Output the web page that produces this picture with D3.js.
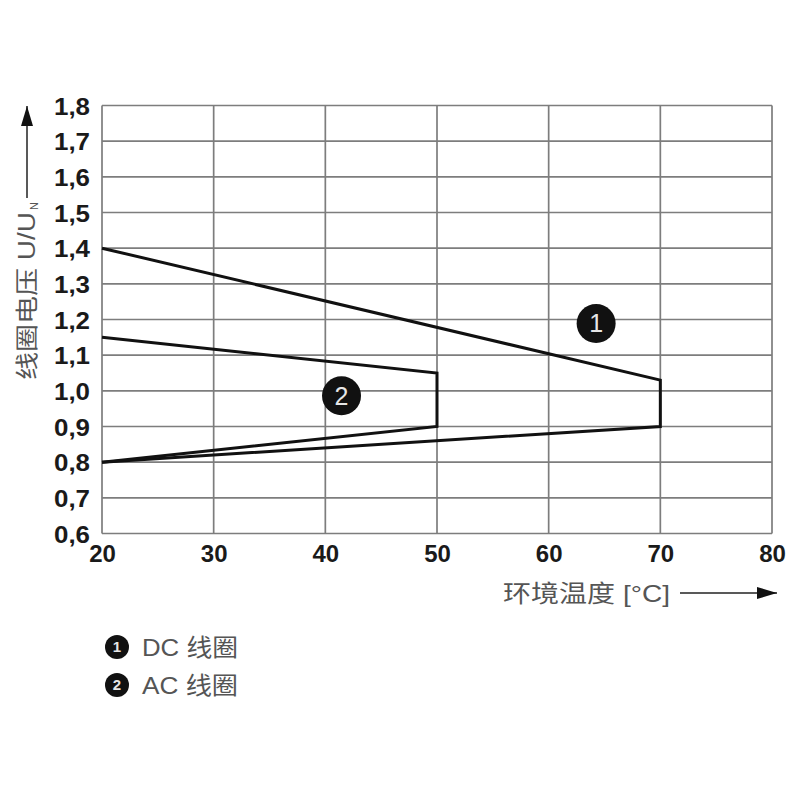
<!DOCTYPE html>
<html>
<head>
<meta charset="utf-8">
<script src="https://cdn.jsdelivr.net/npm/d3@7"></script>
<style>
  body { margin: 0; background: #fff; }
</style>
</head>
<body>
<div id="chart"></div>
<script>
// data
const xTicks = [20, 30, 40, 50, 60, 70, 80];
const yTicks = [0.6, 0.7, 0.8, 0.9, 1.0, 1.1, 1.2, 1.3, 1.4, 1.5, 1.6, 1.7, 1.8];
const dcTemp = [20, 70, 70, 20];
const dcVolt = [1.40, 1.03, 0.90, 0.80];
const acTemp = [20, 50, 50, 20];
const acVolt = [1.15, 1.05, 0.90, 0.80];
const markerLabels = ['1', '2'];
const markerTemp = [64.25, 41.45];
const markerVolt = [1.189, 0.986];
const legendLabels = ['DC 线圈', 'AC 线圈'];

const W = 800, H = 800;
const plot = {left: 102, right: 772, top: 105.5, bottom: 533.5};
const txtFont = '"Liberation Sans", "Noto Sans CJK SC", sans-serif';

const svg = d3.select('#chart').append('svg')
    .attr('width', W).attr('height', H);

svg.append('defs').append('marker')
    .attr('id', 'arrow')
    .attr('viewBox', '0 0 20 12')
    .attr('refX', 20).attr('refY', 6)
    .attr('markerWidth', 20).attr('markerHeight', 12)
    .attr('markerUnits', 'userSpaceOnUse')
    .attr('orient', 'auto')
  .append('path')
    .attr('d', 'M0,0 L20,6 L0,12 Z')
    .attr('fill', '#111');

const x = d3.scaleLinear().domain([20, 80]).range([plot.left, plot.right]);
const y = d3.scaleLinear().domain([0.6, 1.8]).range([plot.bottom, plot.top]);

// grid
const grid = svg.append('g').attr('class', 'grid');
grid.selectAll('.vline').data(xTicks).enter().append('line')
    .attr('x1', d => x(d)).attr('x2', d => x(d))
    .attr('y1', plot.top).attr('y2', plot.bottom)
    .attr('stroke', '#7d7d7d').attr('stroke-width', 1.7);
grid.selectAll('.hline').data(yTicks).enter().append('line')
    .attr('x1', plot.left).attr('x2', plot.right)
    .attr('y1', d => y(d)).attr('y2', d => y(d))
    .attr('stroke', '#7d7d7d').attr('stroke-width', 1.7);

// axes (labels only, domain/ticks hidden)
const fmt = d => d.toFixed(1).replace('.', ',');
const yAxis = svg.append('g')
    .attr('transform', `translate(${plot.left - 12},0)`)
    .call(d3.axisLeft(y).tickValues(yTicks).tickFormat(fmt).tickSize(0).tickPadding(0));
const xAxis = svg.append('g')
    .attr('transform', `translate(0,${plot.bottom + 8})`)
    .call(d3.axisBottom(x).tickValues(xTicks).tickFormat(d3.format('d')).tickSize(0).tickPadding(0));
[yAxis, xAxis].forEach(a => {
    a.select('.domain').remove();
    a.selectAll('text')
        .attr('font-family', '"Liberation Sans", Arial, sans-serif')
        .attr('font-weight', 'bold')
        .attr('font-size', 24)
        .attr('fill', '#1a1a1a');
});
yAxis.selectAll('text').attr('dy', '0.36em')
    .attr('textLength', 36).attr('lengthAdjust', 'spacingAndGlyphs');
xAxis.selectAll('text').attr('dy', '0.85em');

// curves
const line = d3.line().x(d => x(d[0])).y(d => y(d[1]));
const dc = d3.zip(dcTemp, dcVolt);
const ac = d3.zip(acTemp, acVolt);
svg.selectAll('.curve').data([dc, ac]).enter().append('path')
    .attr('d', line)
    .attr('fill', 'none')
    .attr('stroke', '#111')
    .attr('stroke-width', 3)
    .attr('stroke-linejoin', 'miter');

// numbered markers in plot
const marks = svg.selectAll('.mark').data(markerLabels).enter().append('g')
    .attr('transform', (d, i) => `translate(${x(markerTemp[i])},${y(markerVolt[i])})`);
marks.append('circle').attr('r', 19.5).attr('fill', '#111');
marks.append('text').text(d => d)
    .attr('text-anchor', 'middle').attr('dy', '0.36em')
    .attr('font-family', '"Liberation Sans", Arial, sans-serif')
    .attr('font-size', 25).attr('fill', '#e6e6e6');

// y title with arrow
const yt = svg.append('g').attr('transform', 'translate(27,0)');
yt.append('text')
    .attr('transform', 'translate(8,380) rotate(-90)')
    .attr('font-family', txtFont).attr('font-size', 23).attr('fill', '#555')
    .attr('textLength', 168).attr('lengthAdjust', 'spacingAndGlyphs')
    .text('线圈电压 U/U');
yt.append('text')
    .attr('transform', 'translate(11,202) rotate(-90)')
    .attr('text-anchor', 'end')
    .attr('font-family', txtFont).attr('font-size', 11).attr('fill', '#555')
    .text('N');
yt.append('line')
    .attr('x1', 0).attr('x2', 0).attr('y1', 198).attr('y2', 106)
    .attr('stroke', '#222').attr('stroke-width', 1.5)
    .attr('marker-end', 'url(#arrow)');

// x title with arrow
svg.append('text')
    .attr('x', 503).attr('y', 602)
    .attr('font-family', txtFont).attr('font-size', 24).attr('fill', '#555')
    .attr('textLength', 167).attr('lengthAdjust', 'spacingAndGlyphs')
    .text('环境温度 [°C]');
svg.append('line')
    .attr('x1', 680).attr('x2', 777).attr('y1', 593).attr('y2', 593)
    .attr('stroke', '#222').attr('stroke-width', 1.5)
    .attr('marker-end', 'url(#arrow)');

// legend
const leg = svg.selectAll('.leg').data(legendLabels).enter().append('g')
    .attr('transform', (d, i) => `translate(117,${647 + i * 38})`);
leg.append('circle').attr('r', 12).attr('fill', '#111');
leg.append('text').text((d, i) => markerLabels[i])
    .attr('text-anchor', 'middle').attr('dy', '0.36em')
    .attr('font-family', '"Liberation Sans", Arial, sans-serif')
    .attr('font-size', 15).attr('font-weight', 'bold').attr('fill', '#e6e6e6');
leg.append('text').text(d => d)
    .attr('x', 25).attr('dy', '0.36em')
    .attr('font-family', txtFont).attr('font-size', 24).attr('fill', '#555')
    .attr('textLength', 96).attr('lengthAdjust', 'spacingAndGlyphs');
</script>
</body>
</html>
